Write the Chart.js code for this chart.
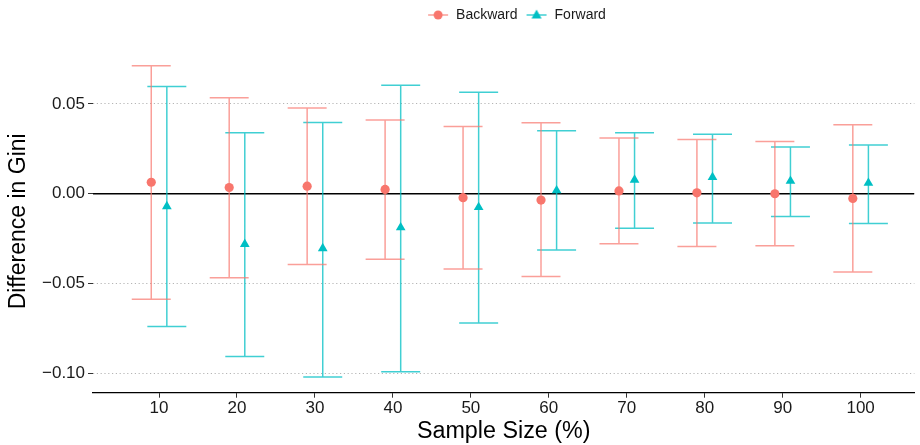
<!DOCTYPE html>
<html>
<head>
<meta charset="utf-8">
<script src="https://cdn.jsdelivr.net/npm/chart.js@4.4.1/dist/chart.umd.min.js"></script>
<style>
  html, body { margin: 0; padding: 0; background: #fff; }
  #wrap { width: 920px; height: 445px; }
</style>
</head>
<body>
<div id="wrap"><canvas id="gini-chart" width="920" height="445"></canvas></div>
<script>
// sample sizes (%) on the x axis
const sampleSizes = [10, 20, 30, 40, 50, 60, 70, 80, 90, 100];

// Backward: mean difference in Gini and its interval
const backwardMean = [0.0064, 0.0035, 0.0042, 0.0024, -0.0022, -0.0035, 0.0016, 0.0005, 0.0000, -0.0026];
const backwardLow  = [-0.0587, -0.0468, -0.0393, -0.0364, -0.0419, -0.0461, -0.0278, -0.0293, -0.0289, -0.0435];
const backwardHigh = [0.0713, 0.0534, 0.0477, 0.0410, 0.0375, 0.0395, 0.0311, 0.0302, 0.0291, 0.0384];

// Forward
const forwardMean = [-0.0070, -0.0280, -0.0304, -0.0188, -0.0075, 0.0018, 0.0077, 0.0092, 0.0071, 0.0060];
const forwardLow  = [-0.0739, -0.0906, -0.1020, -0.0990, -0.0719, -0.0313, -0.0192, -0.0163, -0.0126, -0.0165];
const forwardHigh = [0.0597, 0.0339, 0.0397, 0.0604, 0.0565, 0.0351, 0.0339, 0.0331, 0.0260, 0.0271];

const yTicks = [-0.10, -0.05, 0.00, 0.05];

const BACK_COLOR = '#F8766D';
const FWD_COLOR = '#00BFC4';
const BACK_BAR = 'rgba(248,118,109,0.7)';
const FWD_BAR = 'rgba(0,191,196,0.75)';
const DODGE = 1;      // x units each series is shifted
const CAP = 2.5;      // half width of an error bar cap, x units
const X_MIN = 1.53, X_MAX = 106.9;
const Y_MIN = -0.1107, Y_MAX = 0.08;
const FONT = '"Liberation Sans", Arial, Helvetica, sans-serif';

const points = (means, shift) => sampleSizes.map((s, i) => ({ x: s + shift, y: means[i] }));

// each error bar = stem + two caps, gaps (y: null) between pieces
const errorBars = (low, high, shift) => {
  const out = [];
  sampleSizes.forEach((s, i) => {
    const x = s + shift;
    out.push({ x: x, y: low[i] }, { x: x, y: high[i] }, { x: x, y: null });
    out.push({ x: x - CAP, y: high[i] }, { x: x + CAP, y: high[i] }, { x: x, y: null });
    out.push({ x: x - CAP, y: low[i] }, { x: x + CAP, y: low[i] }, { x: x, y: null });
  });
  return out;
};

// small legend key: line with marker on it
const legendKey = (lineColor, fill, shape) => {
  const c = document.createElement('canvas');
  c.width = 22; c.height = 14;
  const g = c.getContext('2d');
  g.strokeStyle = lineColor;
  g.lineWidth = 1.5;
  g.beginPath(); g.moveTo(1, 7); g.lineTo(21, 7); g.stroke();
  g.fillStyle = fill;
  g.beginPath();
  if (shape === 'circle') {
    g.arc(11, 7, 4.5, 0, Math.PI * 2);
  } else {
    g.moveTo(11, 1.5); g.lineTo(16, 10.5); g.lineTo(6, 10.5); g.closePath();
  }
  g.fill();
  return c;
};

// leave a gap under the legend and nudge it right, like the original
const legendPlacement = {
  id: 'legendPlacement',
  beforeInit(chart) {
    const fit = chart.legend.fit;
    chart.legend.fit = function () {
      fit.bind(chart.legend)();
      this.height += 18;
    };
  },
  afterLayout(chart) {
    chart.legend.left += 106;
  },
};

const ctx = document.getElementById('gini-chart').getContext('2d');

new Chart(ctx, {
  type: 'scatter',
  plugins: [legendPlacement],
  data: {
    datasets: [
      {
        label: 'Backward',
        data: points(backwardMean, -DODGE),
        pointStyle: 'circle',
        pointRadius: 4.6,
        backgroundColor: BACK_COLOR,
        borderColor: BACK_COLOR,
        borderWidth: 0,
        order: 1,
        legendKey: legendKey(BACK_BAR, BACK_COLOR, 'circle'),
      },
      {
        label: 'Forward',
        data: points(forwardMean, DODGE),
        pointStyle: 'triangle',
        pointRadius: 5.6,
        backgroundColor: FWD_COLOR,
        borderColor: FWD_COLOR,
        borderWidth: 0,
        order: 1,
        legendKey: legendKey(FWD_BAR, FWD_COLOR, 'triangle'),
      },
      {
        label: 'backward-bars',
        type: 'line',
        data: errorBars(backwardLow, backwardHigh, -DODGE),
        borderColor: BACK_BAR,
        borderWidth: 1.5,
        pointRadius: 0,
        spanGaps: false,
        order: 2,
      },
      {
        label: 'forward-bars',
        type: 'line',
        data: errorBars(forwardLow, forwardHigh, DODGE),
        borderColor: FWD_BAR,
        borderWidth: 1.5,
        pointRadius: 0,
        spanGaps: false,
        order: 2,
      },
      {
        label: 'zero',
        type: 'line',
        data: [{ x: X_MIN, y: 0 }, { x: X_MAX, y: 0 }],
        borderColor: '#000',
        borderWidth: 1.3,
        pointRadius: 0,
        order: 3,
      },
    ],
  },
  options: {
    responsive: false,
    animation: false,
    layout: { padding: { left: 7, right: 0, top: 0, bottom: 1.5 } },
    plugins: {
      tooltip: { enabled: false },
      legend: {
        position: 'top',
        labels: {
          font: { family: FONT, size: 14 },
          color: '#1a1a1a',
          usePointStyle: true,
          pointStyleWidth: 22,
          padding: 8,
          filter: (item) => item.datasetIndex < 2,
          generateLabels: (chart) => chart.data.datasets.slice(0, 2).map((ds, i) => ({
            text: ds.label,
            datasetIndex: i,
            pointStyle: ds.legendKey,
            fillStyle: ds.backgroundColor,
            strokeStyle: ds.backgroundColor,
            lineWidth: 0,
            fontColor: '#1a1a1a',
          })),
        },
      },
    },
    scales: {
      x: {
        type: 'linear',
        min: X_MIN,
        max: X_MAX,
        afterBuildTicks: (axis) => { axis.ticks = sampleSizes.map((v) => ({ value: v })); },
        // panel runs to the right edge, no room kept for the last label
        afterFit: (axis) => { axis.paddingRight = 0; axis.paddingLeft = 0; },
        grid: { color: 'transparent', tickColor: '#333', tickLength: 5, drawTicks: true },
        border: { display: true, color: '#000', width: 1.2 },
        ticks: {
          font: { family: FONT, size: 17, lineHeight: 1 },
          color: '#1a1a1a',
          padding: 2.5,
          maxRotation: 0,
          callback: (v) => String(v),
        },
        title: {
          display: true,
          text: 'Sample Size (%)',
          font: { family: FONT, size: 23.3, lineHeight: 1 },
          color: '#000',
          padding: { top: 0.5, bottom: 0 },
        },
      },
      y: {
        type: 'linear',
        min: Y_MIN,
        max: Y_MAX,
        afterBuildTicks: (axis) => { axis.ticks = yTicks.map((v) => ({ value: v })); },
        grid: { color: '#b5b5b5', lineWidth: 1, tickColor: '#333', tickLength: 5, drawTicks: true },
        border: { display: false, dash: [1.2, 2.6] },
        ticks: {
          font: { family: FONT, size: 17 },
          color: '#1a1a1a',
          padding: 3,
          callback: (v) => v.toFixed(2).replace('-', '\u2212'),
        },
        title: {
          display: true,
          text: 'Difference in Gini',
          font: { family: FONT, size: 23, lineHeight: 1 },
          color: '#000',
          padding: { top: 0, bottom: 9 },
        },
      },
    },
  },
});
</script>
</body>
</html>
